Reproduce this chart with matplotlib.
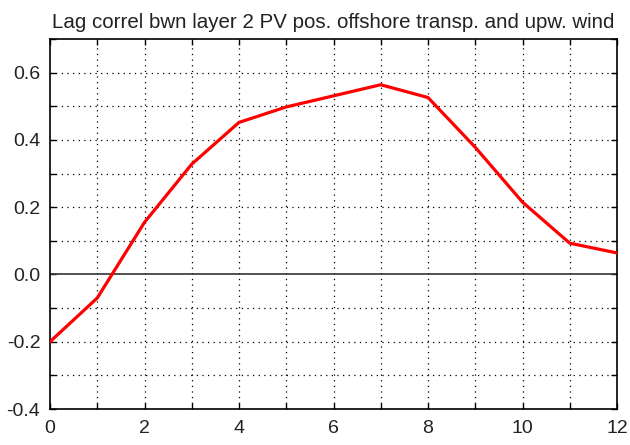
import matplotlib.pyplot as plt
import numpy as np

# Lag (months) and lagged correlation values
lags = [0, 1, 2, 3, 4, 5, 6, 7, 8, 9, 10, 11, 12]
correl = [-0.20, -0.07, 0.155, 0.328, 0.452, 0.498, 0.531, 0.564, 0.526,
          0.378, 0.215, 0.093, 0.064]

title = "Lag correl bwn layer 2 PV pos. offshore transp. and upw. wind"
x_ticks = [0, 2, 4, 6, 8, 10, 12]
y_ticks = [-0.4, -0.2, 0.0, 0.2, 0.4, 0.6]

plt.rcParams['font.family'] = ['Liberation Sans', 'DejaVu Sans']

fig = plt.figure(figsize=(6.3, 4.45), dpi=100)
ax = fig.add_axes([50 / 630, 1 - 409 / 445, 567 / 630, 370 / 445])

ax.set_xlim(0, 12)
ax.set_ylim(-0.4, 0.7)

# dotted grid at every integer lag and every 0.1
for xv in np.arange(1, 12):
    ax.axvline(xv, color='black', lw=0.9, ls=(0, (1, 3.5)), zorder=1)
for yv in np.arange(-0.3, 0.7, 0.1):
    if abs(yv) > 1e-9:
        ax.axhline(yv, color='black', lw=0.9, ls=(0, (1, 3.5)), zorder=1)
ax.axhline(0, color='#333333', lw=1.2, zorder=2)

ax.plot(lags, correl, color='red', lw=2.3, zorder=3)

ax.set_xticks(x_ticks)
ax.set_xticklabels([str(v) for v in x_ticks])
ax.set_yticks(y_ticks)
ax.set_yticklabels([f"{v:.1f}" for v in y_ticks])
ax.set_xticks(np.arange(0, 13, 1), minor=True)
ax.set_yticks(np.arange(-0.4, 0.71, 0.1), minor=True)
ax.tick_params(which='both', direction='in', top=True, right=True,
               length=4, width=1, labelsize=14, colors='black',
               labelcolor='#222222')
ax.tick_params(axis='x', pad=8)
ax.tick_params(axis='y', pad=7)

for sp in ax.spines.values():
    sp.set_linewidth(1.2)

ax.set_title(title, fontsize=14.8, color='#222222', pad=8)

fig.savefig('out.png', dpi=100)
